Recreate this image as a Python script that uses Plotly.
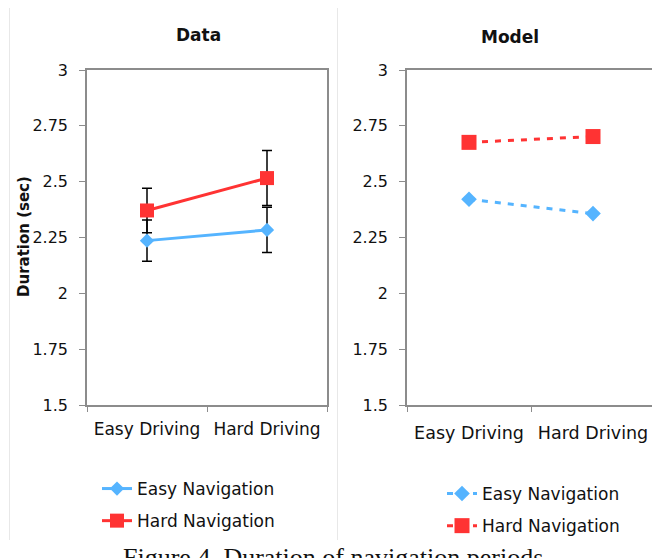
import plotly.graph_objects as go

categories = ["Easy Driving", "Hard Driving"]
series_names = ["Easy Navigation", "Hard Navigation"]

data_easy = [2.236, 2.284]
data_hard = [2.371, 2.516]
data_easy_err = [0.092, 0.101]
data_hard_err = [0.100, 0.123]

model_easy = [2.421, 2.357]
model_hard = [2.676, 2.702]

y_tickvals = [1.5, 1.75, 2.0, 2.25, 2.5, 2.75, 3.0]
y_ticktext = ["1.5", "1.75", "2", "2.25", "2.5", "2.75", "3"]

BLUE = "#55B4FF"
RED = "#FF3333"
FONT = "DejaVu Sans"
W, H = 660, 558
OFF = 8  # page body margin


def px_x(p):
    return (p - OFF) / W


def px_y(p):
    return 1 - (p - OFF) / H


fig = go.Figure()

fig.add_trace(go.Scatter(
    x=categories, y=data_easy, name=series_names[0], mode="lines+markers",
    line=dict(color=BLUE, width=3),
    marker=dict(symbol="diamond", size=11, color=BLUE),
    error_y=dict(type="data", array=data_easy_err, visible=True, color="black", thickness=1.5, width=5),
    xaxis="x", yaxis="y", legend="legend", legendgroup="a"))
fig.add_trace(go.Scatter(
    x=categories, y=data_hard, name=series_names[1], mode="lines+markers",
    line=dict(color=RED, width=3),
    marker=dict(symbol="square", size=14, color=RED),
    error_y=dict(type="data", array=data_hard_err, visible=True, color="black", thickness=1.5, width=5),
    xaxis="x", yaxis="y", legend="legend", legendgroup="b"))

fig.add_trace(go.Scatter(
    x=categories, y=model_easy, name=series_names[0], mode="lines+markers",
    line=dict(color=BLUE, width=3, dash="6px,7px"),
    marker=dict(symbol="diamond", size=12, color=BLUE),
    xaxis="x2", yaxis="y2", legend="legend2", legendgroup="c"))
fig.add_trace(go.Scatter(
    x=categories, y=model_hard, name=series_names[1], mode="lines+markers",
    line=dict(color=RED, width=3, dash="6px,7px"),
    marker=dict(symbol="square", size=15, color=RED),
    xaxis="x2", yaxis="y2", legend="legend2", legendgroup="d"))

xcommon = dict(type="category", categoryorder="array", categoryarray=categories,
               range=[-0.5, 1.5], tickson="boundaries", ticks="outside", ticklen=5,
               tickcolor="#8c8c8c", showline=True, mirror=True, linecolor="#8c8c8c",
               linewidth=1.5, showgrid=False, zeroline=False, automargin=False)
ycommon = dict(range=[1.5, 3.0], tickvals=y_tickvals, ticktext=y_ticktext,
               ticks="outside", ticklen=6, tickcolor="#8c8c8c", showline=True,
               mirror=True, linecolor="#8c8c8c", linewidth=1.5, showgrid=False,
               zeroline=False, automargin=False,
               tickfont=dict(family=FONT, size=16, color="#111"),
               ticklabelstandoff=8)

ydom = [px_y(405), px_y(70)]
fig.update_layout(
    width=W, height=H, margin=dict(l=0, r=0, t=0, b=0, autoexpand=False),
    paper_bgcolor="white", plot_bgcolor="white",
    font=dict(family=FONT, color="#111"),
    xaxis=dict(domain=[px_x(87), px_x(327)], anchor="y",
               tickfont=dict(family=FONT, size=17, color="#111"), ticklabelstandoff=8, **xcommon),
    yaxis=dict(domain=ydom, anchor="x", **ycommon),
    xaxis2=dict(domain=[px_x(407), px_x(655)], anchor="y2",
                tickfont=dict(family=FONT, size=17.5, color="#111"), ticklabelstandoff=11, **xcommon),
    yaxis2=dict(domain=ydom, anchor="x2", **ycommon),
    legend=dict(x=px_x(97), y=px_y(471), xanchor="left", yanchor="top",
                font=dict(family=FONT, size=17, color="#111"),
                tracegroupgap=7, traceorder="grouped", bgcolor="rgba(0,0,0,0)"),
    legend2=dict(x=px_x(442), y=px_y(476), xanchor="left", yanchor="top",
                 font=dict(family=FONT, size=17, color="#111"),
                 tracegroupgap=7, traceorder="grouped", bgcolor="rgba(0,0,0,0)"),
    showlegend=True,
)

fig.add_annotation(text="<b>Data</b>", x=px_x(198.5), y=px_y(35), xref="paper", yref="paper",
                   xanchor="center", yanchor="middle",
                   showarrow=False, font=dict(family=FONT, size=17, color="#111"))
fig.add_annotation(text="<b>Model</b>", x=px_x(510), y=px_y(37), xref="paper", yref="paper",
                   xanchor="center", yanchor="middle",
                   showarrow=False, font=dict(family=FONT, size=17, color="#111"))
fig.add_annotation(text="<b>Duration (sec)</b>", x=px_x(24), y=px_y(237), xref="paper", yref="paper",
                   xanchor="center", yanchor="middle",
                   showarrow=False, textangle=-90, font=dict(family=FONT, size=15, color="#111"))
fig.add_annotation(text="Figure 4. Duration of navigation periods", x=px_x(333), y=px_y(541),
                   xref="paper", yref="paper", xanchor="center", yanchor="top", showarrow=False,
                   font=dict(family="Liberation Serif", size=26, color="#111"))

for xv in [9.5, 337.5, 658.5]:
    fig.add_shape(type="line", xref="paper", yref="paper", x0=px_x(xv), x1=px_x(xv),
                  y0=px_y(7), y1=px_y(540), line=dict(color="#e8e8e8", width=1))

fig.write_html("out.html")
